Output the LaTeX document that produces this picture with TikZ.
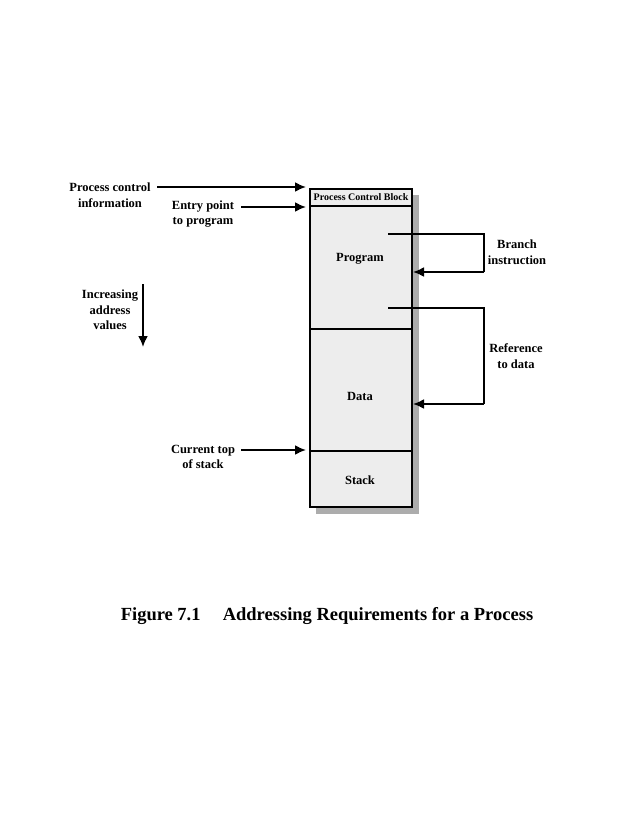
\documentclass[tikz,border=0pt]{standalone}
\usepackage{fontspec}
\setmainfont{Liberation Serif}
\usetikzlibrary{arrows.meta}
\begin{document}
\begin{tikzpicture}[x=1pt,y=-1pt,
  lbl/.style={font=\bfseries\fontsize{12.5}{15.5}\selectfont,align=center,inner sep=0pt},
  seg/.style={draw,line width=2pt,fill=gray!14,minimum width=102pt,inner sep=0pt},
  arr/.style={line width=2pt,-{Latex[length=11pt,width=10pt]}},
  ln/.style={line width=2pt}]
\useasboundingbox (0,0) rectangle (637,824);
% shadow
\fill[gray!65] (316,195) rectangle (419,514);
% segments
\node[seg,anchor=north west,minimum height=17pt] (pcb) at (309,188) {};
\node[seg,anchor=north west,minimum height=123pt] (prog) at (309,205) {};
\node[seg,anchor=north west,minimum height=122pt] (data) at (309,328) {};
\node[seg,anchor=north west,minimum height=56pt] (stack) at (309,450) {};
\node[font=\bfseries\fontsize{10}{11}\selectfont,inner sep=0pt] (pcbl) at (pcb.center) {Process Control Block};
\node[lbl] (progl) at (360,259) {Program};
\node[lbl] (datal) at (360,396) {Data};
\node[lbl] (stackl) at (360,480) {Stack};
% left labels
\node[lbl] (pci) at (110,195) {Process control\\information};
\node[lbl] (ep) at (203,214) {Entry point\\to program};
\node[lbl] (inc) at (110,310) {Increasing\\address\\values};
\node[lbl] (cts) at (203,457) {Current top\\of stack};
\node[lbl] (br) at (517,252) {Branch\\instruction};
\node[lbl] (ref) at (516,356) {Reference\\to data};
% arrows
\coordinate (a1) at (157,187); \coordinate (a1e) at (306,187);
\draw[arr] (a1) -- (a1e);
\coordinate (a2) at (241,207); \coordinate (a2e) at (306,207);
\draw[arr] (a2) -- (a2e);
\coordinate (a3) at (241,450); \coordinate (a3e) at (306,450);
\draw[arr] (a3) -- (a3e);
\coordinate (a4) at (143,284); \coordinate (a4e) at (143,347);
\draw[arr] (a4) -- (a4e);
\coordinate (b1) at (388,234); \coordinate (b2) at (484,234); \coordinate (b3) at (484,272); \coordinate (b4) at (413,272);
\draw[ln] (b1) -- (b2) -- (b3);
\draw[arr] (b3) -- (b4);
\coordinate (r1) at (388,308); \coordinate (r2) at (484,308); \coordinate (r3) at (484,404); \coordinate (r4) at (413,404);
\draw[ln] (r1) -- (r2) -- (r3);
\draw[arr] (r3) -- (r4);
% caption
\node[font=\bfseries\fontsize{18.5}{21}\selectfont,inner sep=0pt] (cap) at (327,616) {Figure 7.1\hspace{1.2em}Addressing Requirements for a Process};
\end{tikzpicture}
\end{document}
